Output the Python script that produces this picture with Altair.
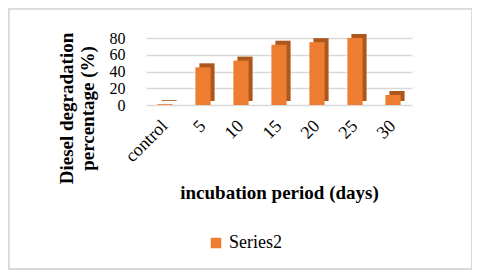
import altair as alt
import pandas as pd

categories = ["control", "5", "10", "15", "20", "25", "30"]
values = [1, 45, 53, 72, 75, 80, 12]
series = ["Series2"] * len(categories)

df = pd.DataFrame({"period": categories, "pct": values, "series": series})

FONT = "Liberation Serif"
ORANGE = "#ED7D31"
SIDE = "#AE571D"

x_enc = alt.X(
    "period:N",
    sort=categories,
    scale=alt.Scale(paddingInner=0.6, paddingOuter=0.3),
    axis=alt.Axis(
        title="incubation period (days)",
        labelAngle=-45,
        labelAlign="right",
        labelBaseline="middle",
        labelPadding=18,
        labelFont=FONT,
        labelFontSize=18,
        labelColor="#000000",
        titleFont=FONT,
        titleFontSize=19,
        titleFontWeight="bold",
        titleColor="#000000",
        titleY=93,
        titleBaseline="alphabetic",
        domain=False,
        ticks=False,
        grid=False,
    ),
)

y_enc = alt.Y(
    "pct:Q",
    scale=alt.Scale(domain=[0, 80], nice=False),
    axis=alt.Axis(
        title=["Diesel degradation", "percentage (%)"],
        values=[0, 20, 40, 60, 80],
        labelOverlap=False,
        labelFont=FONT,
        labelFontSize=16,
        labelColor="#000000",
        labelPadding=21,
        titleFont=FONT,
        titleFontSize=19,
        titleFontWeight="bold",
        titleColor="#000000",
        titleLineHeight=21,
        titleX=-80,
        titleY=70,
        titleBaseline="middle",
        titleAlign="center",
        titleAngle=-90,
        domain=False,
        ticks=False,
        grid=True,
        gridColor="#D9D9D9",
        gridWidth=1.3,
    ),
)

side = alt.Chart(df).mark_bar(color=SIDE, xOffset=4, yOffset=-4).encode(
    x=x_enc, y=y_enc
)

front = alt.Chart(df).mark_bar().encode(
    x=x_enc,
    y=y_enc,
    color=alt.Color(
        "series:N",
        scale=alt.Scale(range=[ORANGE]),
        legend=alt.Legend(
            title=None,
            orient="none",
            legendX=61,
            legendY=196,
            symbolType="square",
            symbolSize=110,
            symbolStrokeWidth=0,
            labelFont=FONT,
            labelFontSize=18,
            labelColor="#000000",
            padding=0,
        ),
    ),
)

border = alt.Chart(df).mark_rect(
    fill=None, stroke="#D9D9D9", strokeWidth=1.5, clip=False
).encode(
    x=alt.value(-137.5), x2=alt.value(326), y=alt.value(-29.5), y2=alt.value(231)
)

chart = (
    alt.layer(border, side, front)
    .properties(
        width=266,
        height=67,
        padding={"left": 138, "top": 30, "right": 60, "bottom": 165},
        autosize=alt.AutoSizeParams(type="none"),
        background="#FFFFFF",
    )
    .configure_view(stroke=None)
    .configure_axis(labelFont=FONT, titleFont=FONT)
    .configure_legend(labelFont=FONT)
)

chart.save("out.html", embed_options={"renderer": "svg", "actions": False})
